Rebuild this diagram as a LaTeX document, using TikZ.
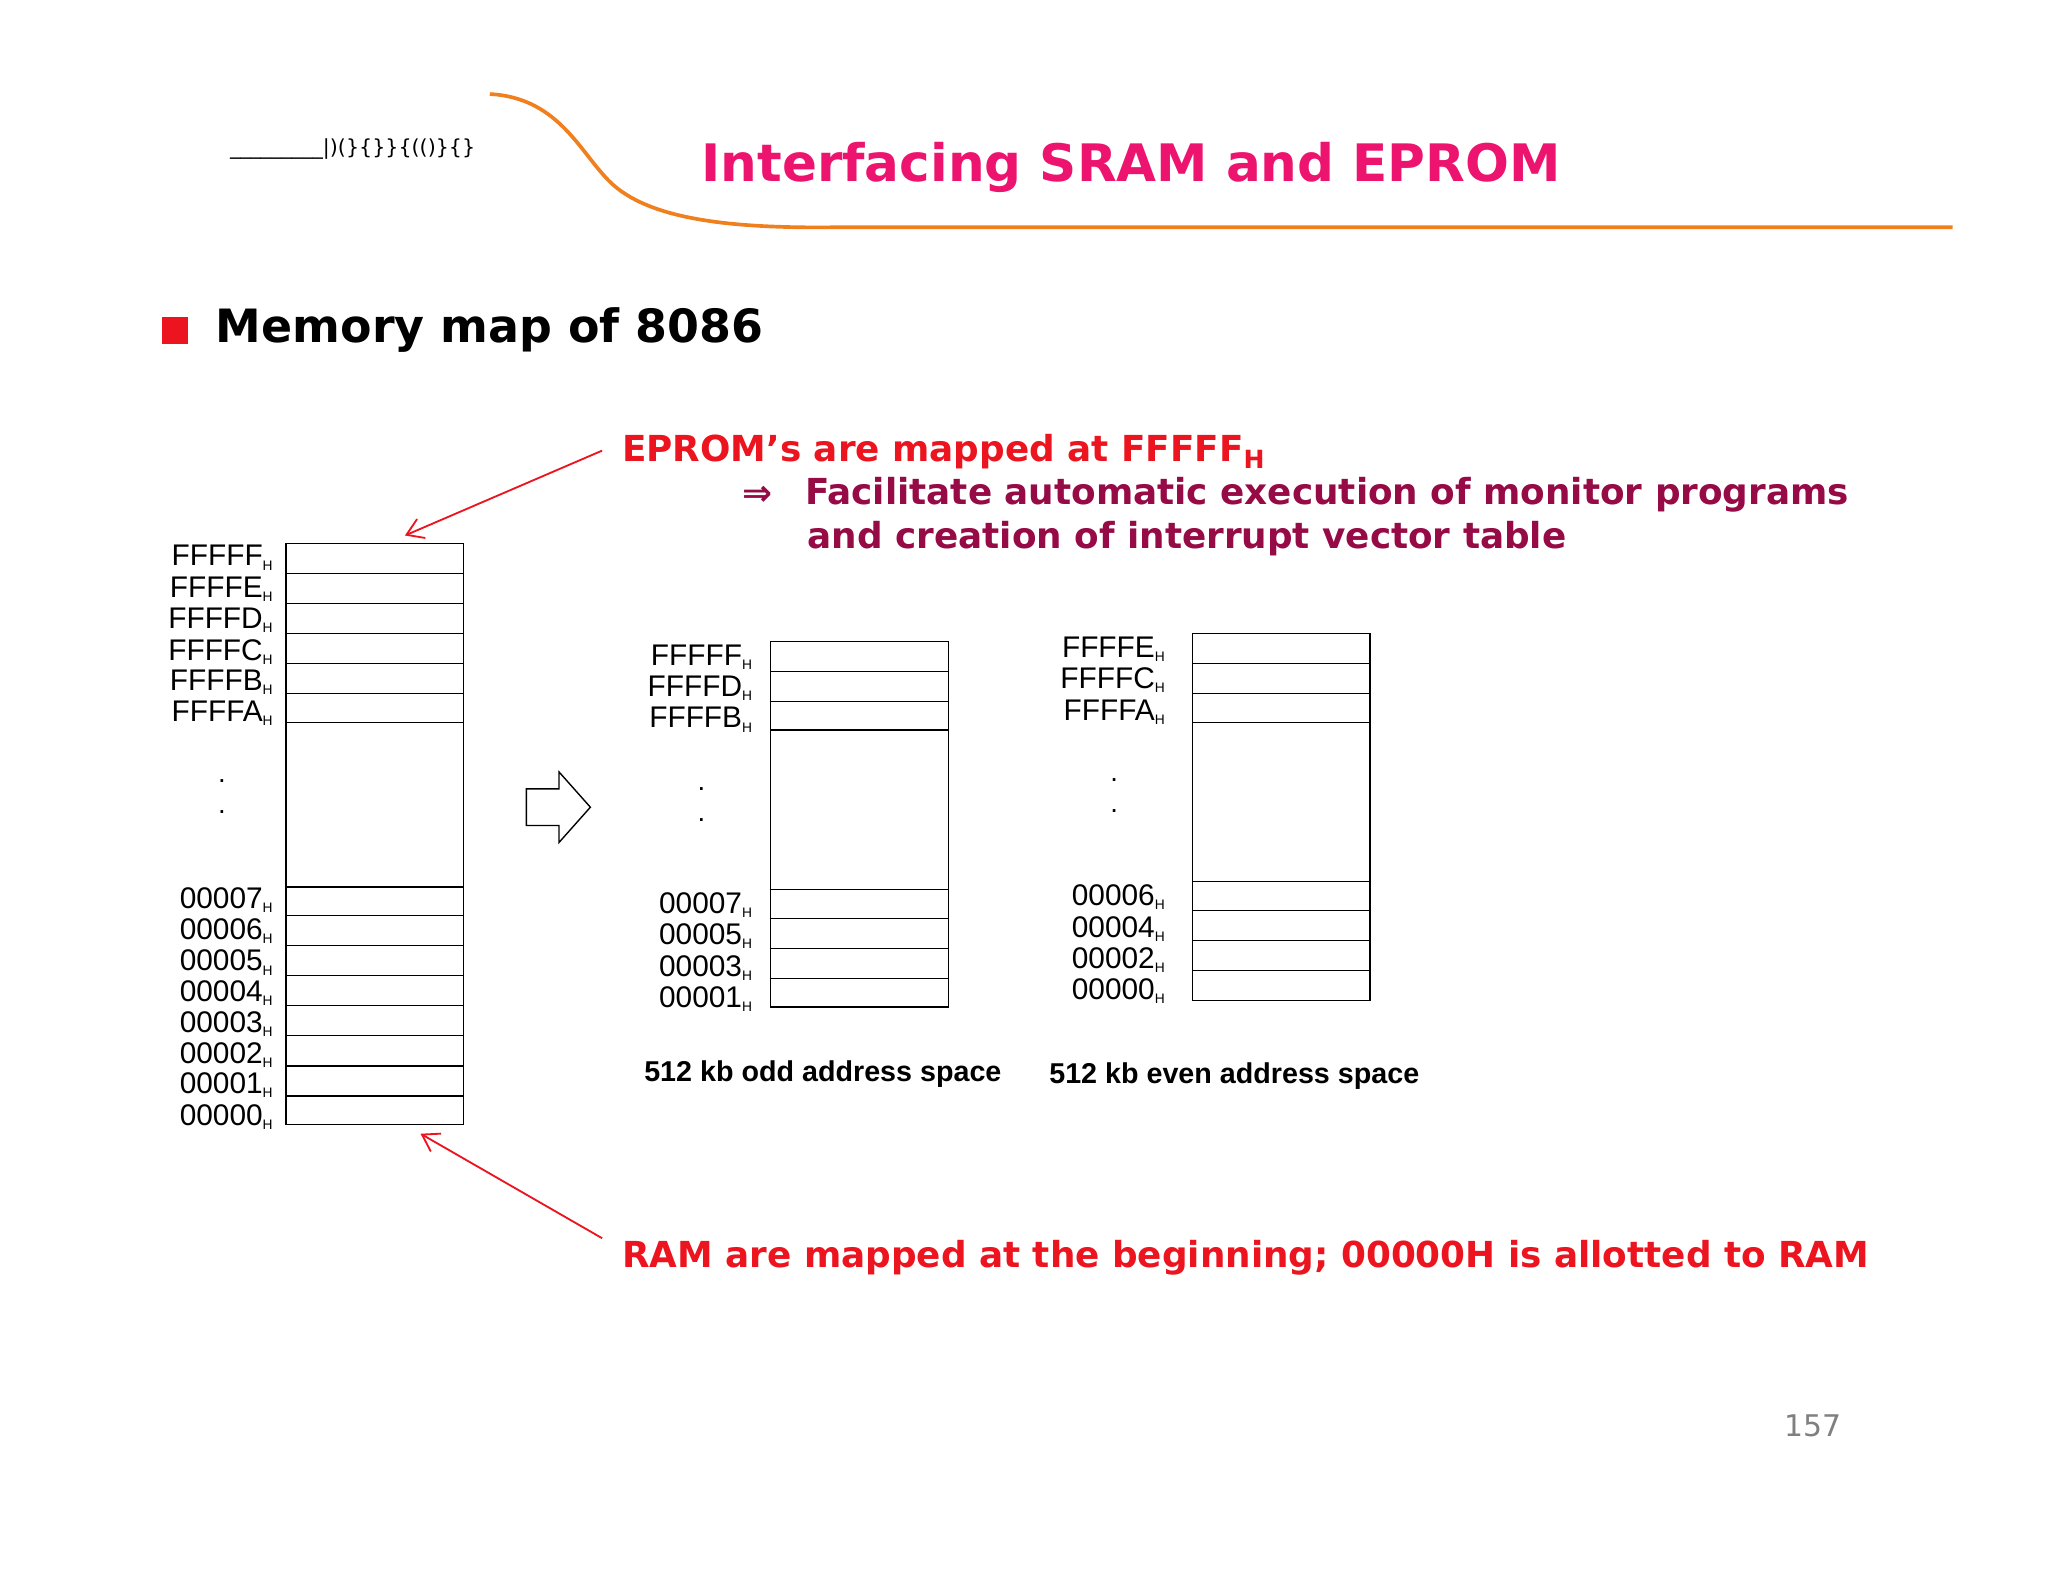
\documentclass[tikz,border=0pt]{standalone}
\usepackage{fontspec}
\setmainfont{DejaVu Sans}
\newfontfamily\arialf{Liberation Sans}
\usetikzlibrary{arrows.meta}
\definecolor{titlepink}{RGB}{236,20,110}
\definecolor{orng}{RGB}{240,128,30}
\definecolor{redt}{RGB}{236,20,30}
\definecolor{plum}{RGB}{150,10,70}
\tikzset{
 cell/.style={draw=black,line width=0.6pt},
 lab/.style={font=\arialf\fontsize{13}{14}\selectfont,anchor=east,inner sep=0pt},
 captxt/.style={font=\arialf\bfseries\fontsize{12.5}{14}\selectfont,inner sep=0pt},
 redtxt/.style={font=\bfseries\fontsize{15.6}{18}\selectfont,text=redt,anchor=west,inner sep=0pt},
 plumtxt/.style={font=\bfseries\fontsize{15.6}{18}\selectfont,text=plum,anchor=west,inner sep=0pt},
 redarrow/.style={draw=redt,line width=0.8pt,-{Straight Barb[length=7pt,width=9pt]}},
 dotn/.style={inner sep=0pt,font=\arialf\fontsize{12}{12}\selectfont}
}
\newcommand{\Hs}[1]{#1\textsubscript{\fontsize{6}{6}\selectfont H}}
\begin{document}
\begin{tikzpicture}[x=0.02cm,y=-0.02cm]
\useasboundingbox (0,0) rectangle (1568,1211);
\fill[white] (0,0) rectangle (1568,1211);
% header
\draw[orng,line width=1.6pt] (375,72) .. controls (430,75) and (445,120) .. (470,142) .. controls (500,168) and (560,175) .. (640,174) -- (1495,174);
\node[inner sep=0pt,font=\fontsize{9}{9}\selectfont] (scr) at (270,114) {\_\_\_\_\_\_\_\_\_|)(\}\{\}\}\{(()\}\{\}};
\node[inner sep=0pt,font=\bfseries\fontsize{22.5}{26}\selectfont,text=titlepink] (title) at (866,128) {Interfacing SRAM and EPROM};
\fill[redt] (124,243) rectangle (144,263);
\node[inner sep=0pt,anchor=west,font=\bfseries\fontsize{20}{24}\selectfont] (mm) at (165,253) {Memory map of 8086};
% annotations
\node[redtxt] (ep) at (476,346) {EPROM’s are mapped at FFFFF\textsubscript{H}};
\node[plumtxt] (arr) at (568,380) {⇒};
\node[plumtxt] (fa) at (616,379) {Facilitate automatic execution of monitor programs};
\node[plumtxt] (fb) at (618,412) {and creation of interrupt vector table};
\node[redtxt] (ram) at (476,963) {RAM are mapped at the beginning; 00000H is allotted to RAM};
\coordinate (epS) at (461,345); \coordinate (epE) at (310,410);
\coordinate (raS) at (461,948); \coordinate (raE) at (322,868);
\draw[redarrow] (epS) -- (epE);
\draw[redarrow] (raS) -- (raE);
% left box
\draw[cell] (219,416) rectangle (355,861);
\foreach \y in {439,462,485,508,531,553,679,701,724,747,770,793,816,839} \draw[cell] (219,\y) -- (355,\y);
\foreach \t/\y [count=\i] in {FFFFF/427,FFFFE/451,FFFFD/475,FFFFC/499,FFFFB/522,FFFFA/546,00007/689,00006/713,00005/737,00004/760,00003/784,00002/808,00001/831,00000/855}
  \node[lab] (L\i) at (210,\y) {\Hs{\t}};
\node[dotn] (ld1) at (170,598) {.}; \node[dotn] (ld2) at (170,622) {.};
% hollow arrow
\draw[line width=0.6pt,line join=miter] (403,604) -- (428,604) -- (428,591) -- (452,618) -- (428,645) -- (428,632) -- (403,632) -- cycle;
% middle box
\draw[cell] (590,491) rectangle (726,771);
\foreach \y in {514,537,559,681,703,726,749} \draw[cell] (590,\y) -- (726,\y);
\foreach \t/\y [count=\i] in {FFFFF/503,FFFFD/527,FFFFB/551,00007/693,00005/717,00003/741,00001/765}
  \node[lab] (M\i) at (577,\y) {\Hs{\t}};
\node[dotn] (md1) at (537,604) {.}; \node[dotn] (md2) at (537,628) {.};
\node[captxt] (c1) at (630,822) {512 kb odd address space};
% right box
\draw[cell] (913,485) rectangle (1049,766);
\foreach \y in {508,531,553,675,697,720,743} \draw[cell] (913,\y) -- (1049,\y);
\foreach \t/\y [count=\i] in {FFFFE/497,FFFFC/521,FFFFA/545,00006/687,00004/711,00002/735,00000/759}
  \node[lab] (R\i) at (893,\y) {\Hs{\t}};
\node[dotn] (rd1) at (853,597) {.}; \node[dotn] (rd2) at (853,621) {.};
\node[captxt] (c2) at (945,824) {512 kb even address space};
\node[inner sep=0pt,text=gray,font=\fontsize{13}{15}\selectfont] (pg) at (1388,1092) {157};
\end{tikzpicture}
\end{document}
